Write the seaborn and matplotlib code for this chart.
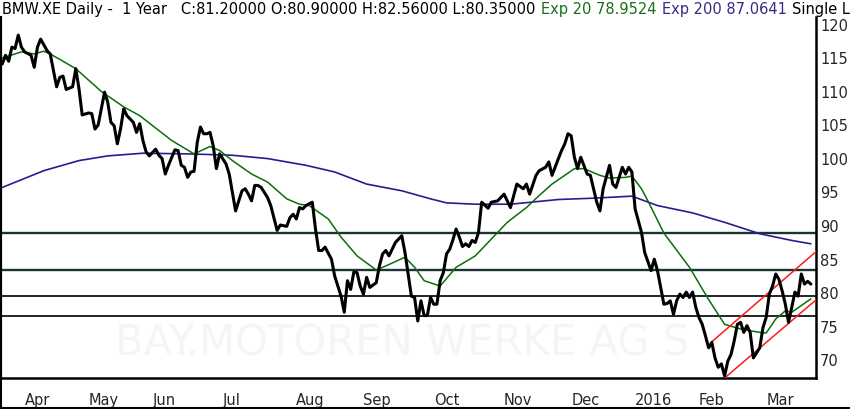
import numpy as np
import pandas as pd
import seaborn as sns
import matplotlib.pyplot as plt
from matplotlib.lines import Line2D

sns.set_style("white")
plt.rcParams['font.family'] = ['DejaVu Sans']

# Xetra holidays inside the window (chart skips them)
HOLIDAYS = ["2015-04-03", "2015-04-06", "2015-05-01", "2015-12-24",
            "2015-12-25", "2015-12-31", "2016-01-01"]

view_start = "2015-03-23"
view_end = "2016-03-22"

# daily close (turning points)
close_dates = [
    "2015-03-23", "2015-03-24", "2015-03-25", "2015-03-26", "2015-03-27", "2015-03-30", "2015-03-31",
    "2015-04-01", "2015-04-07", "2015-04-08", "2015-04-09", "2015-04-10", "2015-04-14", "2015-04-15",
    "2015-04-17", "2015-04-20", "2015-04-21", "2015-04-22", "2015-04-24", "2015-04-27", "2015-04-28",
    "2015-04-29", "2015-05-04", "2015-05-05", "2015-05-06", "2015-05-07", "2015-05-11", "2015-05-12",
    "2015-05-13", "2015-05-14", "2015-05-15", "2015-05-18", "2015-05-19", "2015-05-20", "2015-05-22",
    "2015-05-25", "2015-05-26", "2015-05-27", "2015-05-28", "2015-05-29", "2015-06-02", "2015-06-03",
    "2015-06-04", "2015-06-05", "2015-06-08", "2015-06-10", "2015-06-11", "2015-06-12", "2015-06-15",
    "2015-06-16", "2015-06-17", "2015-06-18", "2015-06-19", "2015-06-22", "2015-06-23", "2015-06-24",
    "2015-06-25", "2015-06-26", "2015-06-29", "2015-06-30", "2015-07-02", "2015-07-03", "2015-07-07",
    "2015-07-09", "2015-07-10", "2015-07-13", "2015-07-14", "2015-07-15", "2015-07-16", "2015-07-17",
    "2015-07-21", "2015-07-22", "2015-07-24", "2015-07-27", "2015-07-29", "2015-07-30", "2015-07-31",
    "2015-08-03", "2015-08-04", "2015-08-05", "2015-08-06", "2015-08-10", "2015-08-11", "2015-08-12",
    "2015-08-13", "2015-08-14", "2015-08-18", "2015-08-19", "2015-08-21", "2015-08-24", "2015-08-25",
    "2015-08-26", "2015-08-27", "2015-08-28", "2015-08-31", "2015-09-01", "2015-09-02", "2015-09-03",
    "2015-09-07", "2015-09-08", "2015-09-09", "2015-09-10", "2015-09-11", "2015-09-15", "2015-09-17",
    "2015-09-18", "2015-09-22", "2015-09-23", "2015-09-24", "2015-09-25", "2015-09-28", "2015-09-29",
    "2015-09-30", "2015-10-01", "2015-10-02", "2015-10-05", "2015-10-06", "2015-10-07", "2015-10-08",
    "2015-10-09", "2015-10-12", "2015-10-13", "2015-10-14", "2015-10-15", "2015-10-16", "2015-10-19",
    "2015-10-20", "2015-10-21", "2015-10-22", "2015-10-26", "2015-10-27", "2015-10-29", "2015-11-02",
    "2015-11-04", "2015-11-06", "2015-11-10", "2015-11-11", "2015-11-12", "2015-11-16", "2015-11-17",
    "2015-11-19", "2015-11-20", "2015-11-23", "2015-11-25", "2015-11-26", "2015-11-27", "2015-11-30",
    "2015-12-01", "2015-12-02", "2015-12-03", "2015-12-04", "2015-12-08", "2015-12-09", "2015-12-10",
    "2015-12-11", "2015-12-14", "2015-12-15", "2015-12-17", "2015-12-18", "2015-12-21", "2015-12-23",
    "2015-12-28", "2015-12-29", "2015-12-30", "2016-01-04", "2016-01-06", "2016-01-07", "2016-01-11",
    "2016-01-12", "2016-01-13", "2016-01-14", "2016-01-15", "2016-01-18", "2016-01-19", "2016-01-20",
    "2016-01-21", "2016-01-22", "2016-01-25", "2016-01-26", "2016-01-27", "2016-01-28", "2016-01-29",
    "2016-02-01", "2016-02-02", "2016-02-03", "2016-02-04", "2016-02-05", "2016-02-08", "2016-02-09",
    "2016-02-10", "2016-02-11", "2016-02-12", "2016-02-15", "2016-02-16", "2016-02-17", "2016-02-18",
    "2016-02-19", "2016-02-22", "2016-02-23", "2016-02-24", "2016-02-26", "2016-02-29", "2016-03-01",
    "2016-03-02", "2016-03-03", "2016-03-04", "2016-03-07", "2016-03-08", "2016-03-09", "2016-03-10",
    "2016-03-11", "2016-03-14", "2016-03-15", "2016-03-16", "2016-03-17", "2016-03-18", "2016-03-21",
]
close_vals = [
    114.0, 115.3, 114.4, 116.5, 116.3, 118.3, 116.5,
    115.8, 115.3, 113.5, 116.5, 117.7, 116.0, 115.5,
    110.6, 112.0, 112.2, 110.2, 110.6, 113.3, 110.3,
    106.4, 106.7, 106.6, 104.3, 104.9, 109.8, 108.3,
    105.3, 104.8, 102.1, 104.3, 107.3, 106.3, 105.3,
    103.8, 105.1, 102.6, 100.9, 100.3, 101.3, 100.4,
    99.9, 97.6, 98.9, 101.2, 101.1, 98.9, 98.6,
    97.1, 97.9, 98.0, 102.3, 104.6, 103.6, 103.6,
    103.8, 101.8, 98.4, 100.6, 99.1, 97.6, 92.1,
    95.1, 95.4, 94.6, 93.6, 95.9, 95.9, 95.6,
    94.1, 92.9, 89.2, 90.0, 89.8, 91.1, 91.6,
    90.9, 92.6, 92.4, 92.9, 93.4, 89.4, 86.2,
    86.2, 86.7, 84.9, 82.4, 79.4, 77.0, 81.7,
    80.4, 83.0, 82.9, 80.9, 79.7, 82.2, 80.7,
    81.4, 83.9, 85.7, 86.2, 85.4, 87.4, 88.4,
    85.9, 79.4, 79.2, 75.7, 78.7, 76.5, 76.5,
    79.2, 78.2, 78.2, 81.7, 82.9, 85.7, 86.4,
    87.8, 89.4, 88.2, 86.8, 87.2, 86.8, 87.7,
    87.4, 88.9, 93.4, 92.5, 93.4, 93.6, 94.6,
    92.6, 96.1, 95.4, 96.1, 94.6, 97.4, 98.1,
    98.6, 99.4, 97.4, 99.9, 101.1, 102.1, 103.6,
    103.3, 100.1, 98.4, 100.1, 97.6, 97.4, 95.4,
    93.4, 92.1, 95.4, 98.9, 96.1, 95.6, 98.6,
    97.6, 98.6, 97.9, 92.4, 88.9, 85.9, 83.2,
    84.9, 83.2, 80.7, 78.2, 78.3, 78.7, 76.7,
    78.7, 79.7, 79.2, 80.0, 79.2, 80.0, 77.7,
    76.2, 75.2, 73.5, 71.7, 72.5, 70.2, 68.8,
    69.3, 67.5, 69.7, 70.7, 72.7, 75.2, 75.5,
    74.0, 75.0, 74.0, 70.2, 71.7, 74.7, 76.2,
    79.7, 80.9, 82.7, 81.9, 80.2, 78.2, 75.5,
    77.7, 80.0, 79.4, 82.7, 81.2, 81.6, 81.2,
]

# exponential moving averages as drawn
ema20_dates = [
    "2015-03-23", "2015-03-31", "2015-04-08", "2015-04-13", "2015-04-15", "2015-04-27", "2015-05-08",
    "2015-05-19", "2015-05-26", "2015-06-09", "2015-06-18", "2015-06-25", "2015-06-30", "2015-07-06",
    "2015-07-14", "2015-07-21", "2015-07-29", "2015-08-04", "2015-08-07", "2015-08-17", "2015-08-21",
    "2015-08-28", "2015-09-07", "2015-09-10", "2015-09-18", "2015-09-23", "2015-09-28", "2015-10-05",
    "2015-10-12", "2015-10-20", "2015-10-27", "2015-11-03", "2015-11-11", "2015-11-17", "2015-11-23",
    "2015-11-27", "2015-12-02", "2015-12-07", "2015-12-14", "2015-12-17", "2015-12-28", "2015-12-30",
    "2016-01-06", "2016-01-08", "2016-01-15", "2016-01-27", "2016-02-04", "2016-02-11", "2016-02-18",
    "2016-02-26", "2016-03-01", "2016-03-04", "2016-03-09", "2016-03-11", "2016-03-16", "2016-03-21",
]
ema20_vals = [
    114.9, 115.8, 115.5, 115.9, 115.5, 113.3, 109.9,
    107.6, 106.3, 102.6, 100.6, 101.7, 101.1, 99.6,
    97.6, 96.4, 93.9, 93.1, 92.9, 90.9, 88.2,
    85.4, 83.3, 83.9, 85.2, 83.7, 81.7, 80.9,
    83.7, 85.4, 87.9, 90.4, 92.6, 94.4, 96.1,
    97.4, 98.4, 98.4, 97.4, 97.0, 97.1, 97.3,
    95.4, 93.6, 88.8, 83.7, 78.9, 75.2, 74.5,
    74.0, 73.9, 76.0, 77.2, 77.0, 78.0, 79.0,
]
ema200_dates = [
    "2015-03-23", "2015-04-13", "2015-04-28", "2015-05-12", "2015-05-27", "2015-06-16", "2015-07-06",
    "2015-07-21", "2015-08-06", "2015-08-19", "2015-09-02", "2015-09-17", "2015-09-30", "2015-10-07",
    "2015-10-20", "2015-11-04", "2015-11-25", "2015-12-10", "2015-12-30", "2016-01-13", "2016-01-28",
    "2016-02-11", "2016-02-26", "2016-03-11", "2016-03-21",
]
ema200_vals = [
    95.6, 98.1, 99.6, 100.3, 100.7, 100.6, 100.4,
    99.9, 98.9, 97.9, 96.1, 95.1, 93.9, 93.3,
    93.1, 93.1, 93.8, 94.0, 94.3, 92.9, 91.8,
    90.4, 88.7, 87.7, 87.2,
]

# horizontal support / resistance lines
levels = [88.8, 83.3, 79.4, 76.5]
level_heavy = [True, True, False, False]

# trend channel (start, end)
chan_upper_dates = ["2016-02-05", "2016-03-23"]
chan_upper_vals = [72.6, 86.2]
chan_lower_dates = ["2016-02-11", "2016-03-23"]
chan_lower_vals = [67.2, 79.0]

cal = pd.bdate_range("2015-03-20", "2016-03-31", freq="C", holidays=HOLIDAYS)


def to_pos(dates):
    return cal.get_indexer(pd.to_datetime(dates))


fig = plt.figure(figsize=(8.5, 4.1), dpi=100)
ax = fig.add_axes([1 / 850, 31 / 410, 815 / 850, 361 / 410])

# watermark
ax.text(0.14, 0.066, "BAY.MOTOREN WERKE AG S", transform=ax.transAxes, fontsize=30,
        color="#f5f5f5", ha="left", va="baseline", zorder=0)

for lv, heavy in zip(levels, level_heavy):
    ax.axhline(lv, color="#1d3333" if heavy else "black", lw=1.7 if heavy else 1.2, zorder=1)

sns.lineplot(x=to_pos(ema200_dates), y=ema200_vals, ax=ax, color="#2b1b8f", lw=1.2,
             estimator=None, sort=False, zorder=2)
sns.lineplot(x=to_pos(ema20_dates), y=ema20_vals, ax=ax, color="#0b6e0b", lw=1.1,
             estimator=None, sort=False, zorder=3)
sns.lineplot(x=to_pos(chan_upper_dates), y=chan_upper_vals, ax=ax, color="#ff1a1a", lw=1.1,
             estimator=None, sort=False, zorder=3)
sns.lineplot(x=to_pos(chan_lower_dates), y=chan_lower_vals, ax=ax, color="#ff1a1a", lw=1.1,
             estimator=None, sort=False, zorder=3)
sns.lineplot(x=to_pos(close_dates), y=close_vals, ax=ax, color="black", lw=2.2,
             estimator=None, sort=False, zorder=4)

x0 = to_pos([view_start])[0]
x1 = to_pos([view_end])[0]
ax.set_xlim(x0 - 0.4, x1 + 0.6)
ax.set_ylim(67.2, 121.0)

# month ticks at the first trading day of each month
firsts = pd.Series(cal).groupby(cal.to_period("M")).first()
firsts = firsts[(firsts >= "2015-04-01") & (firsts <= "2016-03-31")]
ax.set_xticks(cal.get_indexer(pd.DatetimeIndex(firsts)))
ax.set_xticklabels(["2016" if d.month == 1 else d.strftime("%b") for d in firsts])
for lab in ax.get_xticklabels():
    lab.set_ha("left")
ax.tick_params(axis="x", direction="out", length=6, width=1.6, color="black",
               labelsize=10.5, pad=4)

ax.yaxis.tick_right()
ax.set_yticks(np.arange(70, 121, 5))
ax.tick_params(axis="y", length=0, labelsize=10.5, pad=3)
for lab in ax.get_yticklabels():
    lab.set_ha("left")
ax.set_xlabel("")
ax.set_ylabel("")

ax.spines["top"].set_visible(False)
ax.spines["left"].set_linewidth(1.5)
ax.spines["bottom"].set_linewidth(1.8)
ax.spines["right"].set_linewidth(1.8)
for sp in ax.spines.values():
    sp.set_color("black")

# figure frame bits
fig.add_artist(Line2D([0, 1], [0.6 / 410, 0.6 / 410], color="black", lw=1.5,
                      transform=fig.transFigure))
fig.add_artist(Line2D([0.6 / 850, 0.6 / 850], [0, 392 / 410], color="black", lw=1.5,
                      transform=fig.transFigure))

# header line
ty = 1 - 9.5 / 410
hdr = dict(fontsize=10.5, va="center", ha="left")
fig.text(2 / 850, ty, "BMW.XE Daily -  1 Year   C:81.20000 O:80.90000 H:82.56000 L:80.35000",
         color="black", **hdr)
fig.text(541 / 850, ty, "Exp 20 78.9524", color="#1a6e1a", **hdr)
fig.text(662 / 850, ty, "Exp 200 87.0641", color="#3a2a85", **hdr)
fig.text(792 / 850, ty, "Single L", color="black", **hdr)

fig.savefig("out.png", dpi=100)
